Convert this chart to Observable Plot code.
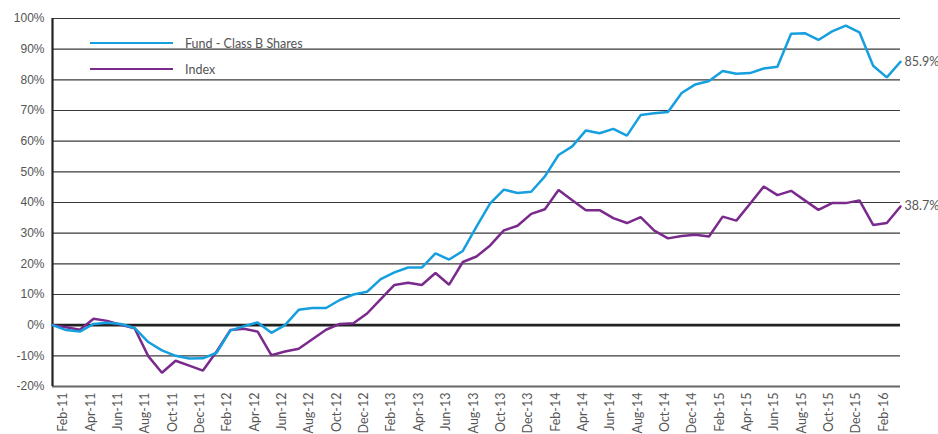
<!DOCTYPE html>
<html>
<head>
<meta charset="utf-8">
<script src="https://cdn.jsdelivr.net/npm/d3@7"></script>
<script src="https://cdn.jsdelivr.net/npm/@observablehq/plot@0.6"></script>
<style>
  html, body { margin: 0; padding: 0; background: #fff; }
  #wrap { position: relative; width: 938px; height: 434px; }
  #legend { position: absolute; left: 90px; top: 30px; font-family: Lato, "Open Sans", sans-serif; font-size: 12.5px; color: #555; }
  #legend .row { display: flex; align-items: center; height: 26px; }
  #legend .sw { width: 83px; height: 2px; margin-right: 12px; }
</style>
</head>
<body>
<div id="wrap"><div id="legend"></div></div>
<script>
// Monthly cumulative returns (%), first point is the Jan-11 base
const startMonth = "2011-01-01";
const fundLabel = "Fund - Class B Shares";
const indexLabel = "Index";
const fundValues = [0, -1.6, -2.1, 0.4, 0.8, 0.4, -0.9, -5.5, -8.2, -10.0, -10.9, -10.8, -9.0, -1.8, -0.3, 0.9, -2.5, 0.0, 5.0, 5.6, 5.6, 8.2, 10.0, 10.9, 15.0, 17.2, 18.8, 18.8, 23.4, 21.4, 24.2, 32.1, 39.7, 44.2, 43.1, 43.5, 48.5, 55.5, 58.3, 63.5, 62.6, 64.0, 61.8, 68.5, 69.1, 69.5, 75.7, 78.5, 79.6, 82.9, 82.0, 82.2, 83.7, 84.3, 95.0, 95.2, 93.0, 95.8, 97.7, 95.5, 84.6, 80.8, 85.9];
const indexValues = [0, -0.7, -1.5, 2.1, 1.4, 0.1, -1.0, -10.1, -15.5, -11.6, -13.2, -14.8, -8.6, -1.6, -1.2, -2.1, -9.8, -8.6, -7.7, -4.6, -1.5, 0.4, 0.6, 3.8, 8.5, 13.1, 13.8, 13.1, 17.0, 13.2, 20.6, 22.4, 26.0, 30.9, 32.4, 36.3, 37.8, 44.1, 40.7, 37.5, 37.5, 34.9, 33.3, 35.2, 30.8, 28.3, 29.1, 29.5, 28.9, 35.4, 34.1, 39.6, 45.2, 42.4, 43.8, 40.7, 37.6, 39.8, 39.8, 40.7, 32.7, 33.3, 38.7];
const yTicks = [-20, -10, 0, 10, 20, 30, 40, 50, 60, 70, 80, 90, 100];
const fundColor = "#159fdf";
const indexColor = "#7a2a8c";

const fmt = d3.utcFormat("%b-%y");
const start = new Date(startMonth + "T00:00:00Z");
const monthLabels = fundValues.map((_, i) => fmt(d3.utcMonth.offset(start, i)));
const xTicks = monthLabels.map((_, i) => i).filter(i => i % 2 === 1);

const fund = fundValues.map((v, i) => ({i, v}));
const index = indexValues.map((v, i) => ({i, v}));
const last = fundValues.length - 1;

const chart = Plot.plot({
  width: 938,
  height: 434,
  marginLeft: 52,
  marginRight: 38,
  marginTop: 18,
  marginBottom: 48,
  style: {fontFamily: "Lato, 'Open Sans', sans-serif", background: "#fff"},
  x: {domain: [0, last], axis: null},
  y: {domain: [-20, 100], axis: null},
  marks: [
    Plot.ruleY(yTicks.filter(d => d !== 0 && d !== -20), {stroke: "#3a3a3a", strokeWidth: 1.2}),
    Plot.ruleY([-20], {stroke: "#666", strokeWidth: 2}),
    Plot.ruleY([0], {stroke: "#222", strokeWidth: 2.6}),
    Plot.ruleX([0], {stroke: "#222", strokeWidth: 2.2}),
    Plot.axisY({
      ticks: yTicks, tickSize: 0, tickPadding: 8, label: null,
      tickFormat: d => d + "%",
      fontSize: 12, fill: "#555",
      fontFamily: "'Liberation Sans Narrow', 'Arial Narrow', 'Liberation Sans', sans-serif"
    }),
    Plot.axisX({
      ticks: xTicks, tickSize: 0, tickPadding: 6, tickRotate: -90, label: null,
      tickFormat: i => monthLabels[i],
      fontSize: 12.5, fill: "#555", dx: -3
    }),
    Plot.line(index, {x: "i", y: "v", stroke: indexColor, strokeWidth: 2.5, strokeLinejoin: "miter"}),
    Plot.line(fund, {x: "i", y: "v", stroke: fundColor, strokeWidth: 2.5, strokeLinejoin: "miter"}),
    Plot.text([fund[last]], {x: "i", y: "v", text: d => d.v.toFixed(1) + "%", dx: 4, textAnchor: "start", fill: "#555", fontSize: 12.5}),
    Plot.text([index[last]], {x: "i", y: "v", text: d => d.v.toFixed(1) + "%", dx: 4, textAnchor: "start", fill: "#555", fontSize: 12.5})
  ]
});
document.getElementById("wrap").prepend(chart);

const legend = document.getElementById("legend");
[[fundLabel, fundColor], [indexLabel, indexColor]].forEach(([label, color]) => {
  const row = document.createElement("div");
  row.className = "row";
  const sw = document.createElement("div");
  sw.className = "sw";
  sw.style.background = color;
  const t = document.createElement("span");
  t.textContent = label;
  row.append(sw, t);
  legend.append(row);
});
</script>
</body>
</html>
